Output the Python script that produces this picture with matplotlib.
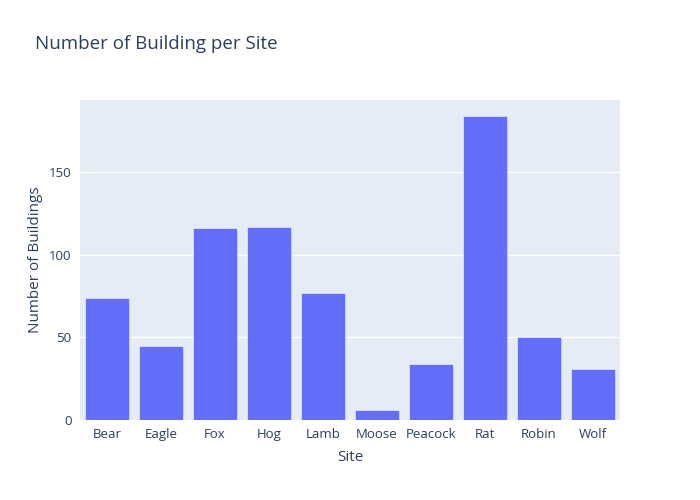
import matplotlib
matplotlib.use("Agg")
import matplotlib.pyplot as plt

sites = ["Bear", "Eagle", "Fox", "Hog", "Lamb", "Moose", "Peacock", "Rat", "Robin", "Wolf"]
buildings = [74, 45, 116, 117, 77, 6, 34, 184, 50, 31]

plt.rcParams['font.family'] = ['Open Sans', 'DejaVu Sans']
text_col = '#2a3f5f'

fig = plt.figure(figsize=(7, 5), dpi=100)
ax = fig.add_axes([80/700, 80/500, 540/700, 320/500])
ax.set_facecolor('#e5ecf6')

x = range(len(sites))
ax.bar(x, buildings, width=0.8, color='#636efa', edgecolor='#e5ecf6',
       linewidth=0.5, zorder=3)

ax.set_xlim(-0.5, len(sites) - 0.5)
ax.set_ylim(0, max(buildings) * 1.0526)
ax.set_yticks([0, 50, 100, 150])
ax.set_xticks(list(x))
ax.set_xticklabels(sites)
ax.grid(axis='y', color='white', linewidth=1, zorder=0)
ax.tick_params(length=0, labelsize=9.5, colors=text_col, pad=6)
for s in ax.spines.values():
    s.set_visible(False)

ax.set_xlabel('Site', fontsize=11, color=text_col, labelpad=6.5)
ax.set_ylabel('Number of Buildings', fontsize=11, color=text_col, labelpad=4)

fig.text(35/700, 1 - 44/500, 'Number of Building per Site', fontsize=13.5,
         color=text_col, va='center', ha='left')

fig.savefig('out.png', dpi=100)
